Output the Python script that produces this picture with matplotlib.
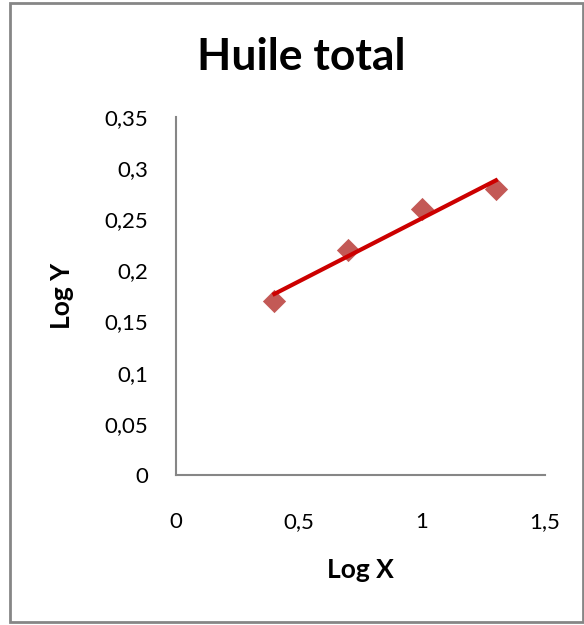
import numpy as np
import matplotlib.pyplot as plt
from matplotlib.patches import Rectangle
from matplotlib.ticker import FuncFormatter

plt.rcParams['font.family'] = ['Lato', 'DejaVu Sans']

# data
log_x = [0.4, 0.7, 1.0, 1.3]
log_y = [0.17, 0.22, 0.26, 0.28]
x_ticks = [0, 0.5, 1, 1.5]
y_ticks = [0, 0.05, 0.1, 0.15, 0.2, 0.25, 0.3, 0.35]

fig = plt.figure(figsize=(5.84, 6.25), dpi=100)
# outer chart-area frame, Excel style
fig.patches.append(Rectangle((10/584, 3/625), 573/584, 619/625, transform=fig.transFigure,
                             fill=False, edgecolor='#868686', linewidth=2))

ax = fig.add_axes([176/584, 150/625, 369/584, 358/625])
ax.scatter(log_x, log_y, marker='D', s=140, color='#c0504d', alpha=0.95, zorder=2, linewidths=0)

# linear trend line like Excel's
k, b = np.polyfit(log_x, log_y, 1)
xs = np.array([min(log_x), max(log_x)])
ax.plot(xs, k*xs + b, color='#cc0000', linewidth=3, zorder=3)

ax.set_xlim(0, 1.5)
ax.set_ylim(0, 0.35)
ax.set_xticks(x_ticks)
ax.set_yticks(y_ticks)
comma = FuncFormatter(lambda v, p: ('%g' % v).replace('.', ','))
ax.xaxis.set_major_formatter(comma)
ax.yaxis.set_major_formatter(comma)
ax.tick_params(length=0, labelsize=16)
ax.tick_params(axis='x', pad=27)
ax.tick_params(axis='y', pad=20)
for s in ['top', 'right']:
    ax.spines[s].set_visible(False)
for s in ['left', 'bottom']:
    ax.spines[s].set_color('#868686')
    ax.spines[s].set_linewidth(1.5)

ax.set_xlabel('Log X', fontsize=19, fontweight='bold', labelpad=18)
ax.set_ylabel('Log Y', fontsize=19, fontweight='bold', labelpad=22)
fig.text(301/584, 1 - 57/625, 'Huile total', fontsize=32, fontweight='bold',
         ha='center', va='center')

fig.savefig('out.png', dpi=100)
